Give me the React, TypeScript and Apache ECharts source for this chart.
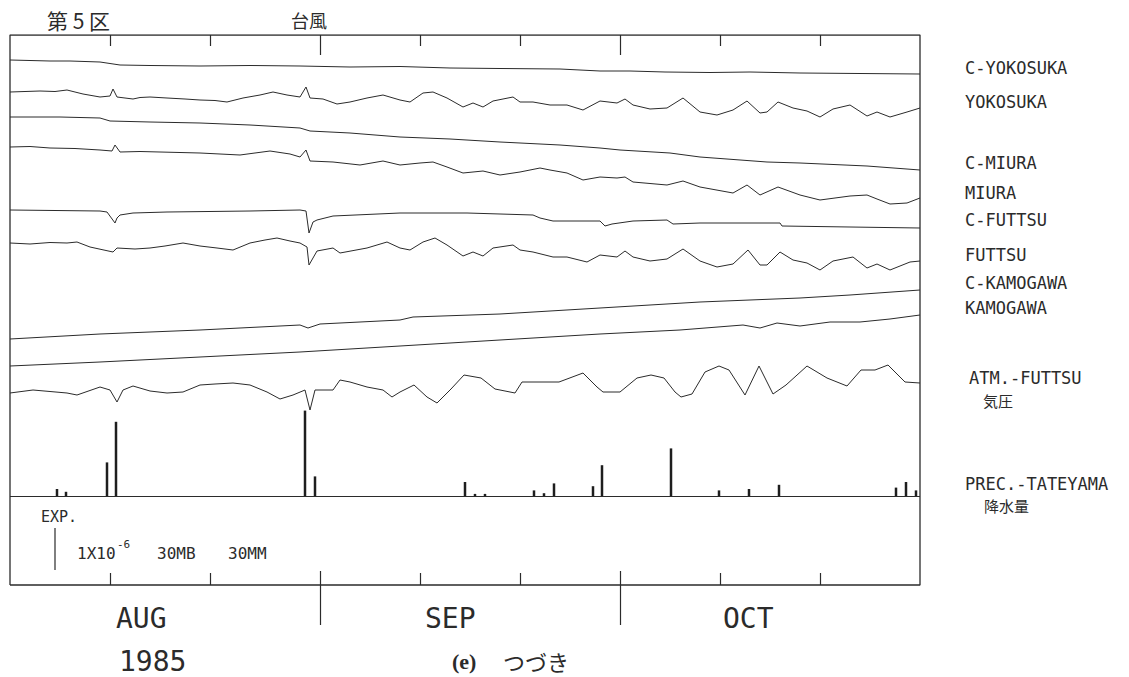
import React, { useEffect, useRef } from "react";
import * as echarts from "echarts";

// Time axis: day 0 = 1 Aug 1985, day 91 = 31 Oct end. Ticks every 10 days, month starts at 31 / 61.
const tickDays = [10, 20, 31, 41, 51, 61, 71, 81];
const monthStarts = [31, 61];

// Plotter units: 42 units = 1x10^-6 strain = 30 mb = 30 mm.
const UNITS_PER_SCALE = 42;
const MM_PER_SCALE = 30;

// Trace levels (starting level of each trace, plotter units above the axis floor)
const traceNames = ["C-YOKOSUKA", "YOKOSUKA", "C-MIURA", "MIURA", "C-FUTTSU", "FUTTSU", "C-KAMOGAWA", "KAMOGAWA", "ATM.-FUTTSU"];
const traceLevels = [565, 533, 508, 478, 415, 382, 286, 259, 232];

// Deviations [day, plotter units] read from the record
const cYokosuka = [[0,0],[2,-0.5],[4,-1],[6,-1],[9,-2],[11,-5],[14,-5.5],[19,-6],[24,-5.5],[29,-6],[34,-7],[39,-6.5],[44,-8],[49,-8.5],[55,-9],[59,-11],[62,-11],[65.5,-12],[70,-12.5],[74,-12],[79,-13],[85,-13.5],[91,-14]];
const yokosuka = [[0,0],[1.5,0.5],[3,1],[4.5,0.5],[5.7,2],[7.3,-2],[9,-5],[10,-4],[10.3,3],[10.7,-5],[12.3,-7],[13,-5.5],[14,-5],[15.7,-6],[17.5,-7],[19,-8],[20.5,-8.5],[21.7,-10],[23.3,-6],[25,-3],[26.3,0],[27.7,-3],[29,-5],[29.6,5],[30,-6],[31.3,-7],[32.7,-12],[34,-10],[35.7,-6],[37.3,-3],[39,-8],[40,-10],[41.3,-1],[42.3,0],[43.7,-6],[45.3,-15],[46.3,-11],[47.3,-15],[48.3,-9],[50.3,-5],[51,-10],[52.3,-10],[54,-13],[55.7,-13],[57.3,-18],[59,-9],[60.7,-11],[61.5,-7],[62.3,-13],[64,-17],[65.7,-16],[67.3,-6],[69,-20],[70.7,-23],[72.3,-18],[73.7,-9],[75,-21],[75.7,-20],[76.8,-10],[78.3,-16],[79.7,-19],[81,-25],[82.3,-17],[84,-13],[85.7,-24],[86.7,-20],[88,-25],[89.7,-20],[91,-16]];
const cMiura = [[0,0],[5,0],[9,-1],[10,-4],[14,-5],[19,-6],[24,-8],[29,-11],[30,-14],[34,-16],[39,-20],[44,-22],[49,-25],[55,-28],[59,-31],[61,-33],[66,-36],[69,-40],[75.7,-45],[79,-46],[85.7,-49],[91,-53]];
const miura = [[0,0],[2,0.5],[4,-1],[6.5,-1.5],[9,-3],[10.2,-4],[10.5,2],[11,-5],[13,-4.5],[15,-5],[17,-5.5],[19,-6],[21,-7],[23,-8],[26,-4],[28,-7],[29,-10],[29.6,-3],[30,-14],[32.3,-15],[35,-18],[37.3,-14],[39,-18],[41,-16],[42.3,-15],[43.7,-20],[45.3,-26],[47.3,-24],[49,-28],[51,-25],[53,-21],[54,-23],[55.7,-26],[57.3,-33],[59,-30],[60.7,-31],[61.5,-30],[62.3,-35],[65.7,-38],[67.3,-34],[69,-40],[72.3,-46],[73.7,-38],[75,-48],[76.8,-40],[79,-48],[81,-53],[84,-49],[85.7,-48],[86.7,-52],[88,-57],[89.7,-56],[91,-51]];
const cFuttsu = [[0,0],[9,-1],[9.7,-2],[10.5,-13],[10.7,-8],[11,-5],[12.3,-3],[15.7,-2],[24,-1],[29,0],[29.6,-1],[29.9,-23],[30.3,-12],[30.7,-10],[32.3,-6],[39,-3],[45.7,-3],[52.3,-5],[53,-8],[54.3,-11],[59,-11],[59.5,-16],[60.2,-14],[62.3,-11],[65.7,-10],[66.3,-14],[69,-13],[77,-13],[77.2,-16],[84,-17],[91,-18]];
const futtsu = [[0,0],[2,-1],[4,0.5],[5.7,0],[6.7,1],[8,-4],[10.3,-9],[10.7,-5],[12.5,-6],[14,-5],[15.5,-3],[17.3,0],[19,-3],[20.7,-5],[22.3,-7],[24,0],[25.5,3],[26.7,5],[28,2],[29,0],[29.7,-4],[29.9,-22],[30.7,-8],[32.3,-5],[33,-10],[35.7,-5],[37.7,1],[39,-5],[40,-7],[41.3,1],[42.5,5],[43.7,-2],[45.3,-13],[46.3,-9],[47.3,-13],[48.3,-5],[50.3,-2],[51,-7],[52.3,-9],[54.3,-14],[55.7,-14],[57.7,-19],[59,-12],[60.7,-14],[61.5,-8],[62.3,-14],[64,-18],[65.7,-16],[67.3,-6],[69,-18],[70.7,-24],[72.3,-21],[73.8,-7],[75,-22],[75.7,-22],[77,-9],[78.3,-17],[79.7,-20],[81,-27],[82.3,-18],[84.3,-14],[85.7,-25],[86.7,-21],[88,-27],[90,-19],[91,-18]];
const cKamogawa = [[0,0],[9,5],[19,9],[29,14],[29.8,11],[31,15],[39,19],[40.3,22],[49,25],[59,31],[69,37],[79,41],[84,44],[91,49]];
const kamogawa = [[0,0],[9,4],[19,9],[29,14],[39,20],[49,26],[59,32],[67,36],[73.3,41],[75,38],[76.7,43],[79,40],[82,44],[85,44],[88,47],[91,51]];
const atmFuttsu = [[0,0],[2.3,3],[4,1.5],[5.7,0],[6.7,-2],[9,6],[10,3],[10.7,-9],[11.3,3],[12.3,7],[14,2],[15.7,0],[17.3,1],[19,8],[20.5,9],[22.3,10],[24,8],[25.7,1],[27,-6],[28.3,-2],[29.5,3],[30,-17],[30.5,3],[32.3,3],[33,13],[34,11],[35.7,6],[37.3,3],[38.2,-4],[39,1],[40.4,8],[41.7,-4],[42.7,-10],[44.1,4],[45.4,18],[47.1,15],[48.5,4],[50.5,0],[51.2,11],[53.2,11],[54.9,11],[57.3,20],[58.7,6],[59.3,1],[61,1],[62.7,15],[64.1,18],[65.4,15],[66.5,1],[67.1,-4],[68.2,-1],[69.5,21],[70.9,27],[71.9,23],[73.5,-2],[74.9,27],[76.3,-1],[77.6,8],[79.7,27],[81.7,15],[83.7,7],[85.1,23],[86.5,23],[87.8,28],[89.5,11],[91,10]];
const traceData = [cYokosuka, yokosuka, cMiura, miura, cFuttsu, futtsu, cKamogawa, kamogawa, atmFuttsu];

// Daily precipitation at Tateyama, [day, mm]
const precipTateyama = [[4.7,5],[5.6,3],[9.7,24],[10.6,53],[29.5,61],[30.5,14],[45.5,10],[46.5,1.5],[47.5,1.5],[52.4,4],[53.4,2],[54.4,9],[58.3,7],[59.2,22],[66.1,34],[70.9,4],[73.9,5],[76.9,8],[88.6,6],[89.6,10],[90.6,4]];

// Frame levels (plotter units on the main axis)
const AXIS_MAX = 590;
const FRAME_TOP = 590;
const FRAME_BOTTOM = 40;
const PREC_BASE = 129;
const SCALE_BAR_BASE = 55;
const SCALE_BAR_DAY = 4.5;
const DAY_MAX = 91;

const rightLabels = [
  { t: "C-YOKOSUKA", y: 68 }, { t: "YOKOSUKA", y: 102 }, { t: "C-MIURA", y: 163 }, { t: "MIURA", y: 193 },
  { t: "C-FUTTSU", y: 220 }, { t: "FUTTSU", y: 255 }, { t: "C-KAMOGAWA", y: 283 }, { t: "KAMOGAWA", y: 308 },
  { t: "ATM.-FUTTSU", y: 378, x: 969 }, { t: "PREC.-TATEYAMA", y: 484 },
];

const INK = "#2b2b2b";
const MONO = '"DejaVu Sans Mono", "Liberation Mono", monospace';
const CJK = '"Noto Sans CJK JP", sans-serif';

export default function App() {
  const ref = useRef<HTMLDivElement>(null);
  useEffect(() => {
    if (!ref.current) return;
    const chart = echarts.init(ref.current, undefined, { renderer: "svg" });
    const mmPerUnit = MM_PER_SCALE / UNITS_PER_SCALE;
    const precMin = -PREC_BASE * mmPerUnit;
    const precMax = (AXIS_MAX - PREC_BASE) * mmPerUnit;

    const tickLines: any[] = [];
    tickDays.forEach((d) => {
      const long = monthStarts.includes(d);
      tickLines.push([{ coord: [d, FRAME_TOP] }, { coord: [d, FRAME_TOP - (long ? 20 : 11)] }]);
      if (long) tickLines.push([{ coord: [d, 0] }, { coord: [d, FRAME_BOTTOM + 14] }]);
      else tickLines.push([{ coord: [d, FRAME_BOTTOM] }, { coord: [d, FRAME_BOTTOM + 12] }]);
    });
    tickLines.push([{ coord: [0, PREC_BASE] }, { coord: [DAY_MAX, PREC_BASE] }]);

    const series: any[] = traceNames.map((name, i) => ({
      type: "line",
      name,
      data: traceData[i].map(([d, v]) => [d, traceLevels[i] + v]),
      symbol: "none",
      silent: true,
      lineStyle: { color: INK, width: 1 },
    }));
    series.push({
      type: "bar",
      name: "PREC.-TATEYAMA",
      yAxisIndex: 1,
      data: precipTateyama,
      barWidth: 2.5,
      silent: true,
      itemStyle: { color: "#1e1e1e" },
    });
    series.push({
      type: "line",
      name: "frame",
      data: [[0, FRAME_BOTTOM], [0, FRAME_TOP], [DAY_MAX, FRAME_TOP], [DAY_MAX, FRAME_BOTTOM], [0, FRAME_BOTTOM]],
      symbol: "none",
      silent: true,
      lineStyle: { color: INK, width: 1.3 },
      markLine: {
        symbol: ["none", "none"],
        silent: true,
        label: { show: false },
        lineStyle: { color: INK, width: 1.2, type: "solid" },
        data: tickLines,
      },
    });
    series.push({
      type: "line",
      name: "scale",
      data: [[SCALE_BAR_DAY, SCALE_BAR_BASE], [SCALE_BAR_DAY, SCALE_BAR_BASE + UNITS_PER_SCALE]],
      symbol: "none",
      silent: true,
      lineStyle: { color: INK, width: 1.2 },
    });

    const txt = (text: string, x: number, y: number, size: number, family = MONO, extra: any = {}) => ({
      type: "text",
      x,
      y,
      silent: true,
      style: { text, fontSize: size, fontFamily: family, fill: INK, verticalAlign: "middle", align: "left", ...extra },
    });

    const graphic: any[] = [
      txt("第 5 区", 47, 20, 21, CJK),
      txt("台風", 291, 20, 18, CJK),
      ...rightLabels.map((l) => txt(l.t, l.x ?? 965, l.y, 17)),
      txt("気圧", 983, 400, 15, CJK),
      txt("降水量", 984, 505, 15, CJK),
      txt("EXP.", 41, 517, 15),
      txt("1X10", 77, 553, 16),
      txt("-6", 117, 544, 11),
      txt("30MB", 157, 553, 16),
      txt("30MM", 228, 553, 16),
      txt("AUG", 116, 618, 28),
      txt("1985", 119, 661, 28),
      txt("SEP", 425, 618, 28),
      txt("OCT", 723, 618, 28),
      txt("(e)", 452, 661, 22, '"Liberation Serif", serif', { fontWeight: "bold" }),
      txt("つづき", 503, 661, 22, CJK),
    ];

    chart.setOption({
      animation: false,
      backgroundColor: "#ffffff",
      grid: { left: 10, right: 209, top: 35, bottom: 52 },
      xAxis: { type: "value", min: 0, max: DAY_MAX, show: false },
      yAxis: [
        { type: "value", min: 0, max: AXIS_MAX, show: false },
        { type: "value", min: precMin, max: precMax, show: false },
      ],
      series,
      graphic,
    });
    return () => chart.dispose();
  }, []);
  return <div ref={ref} style={{ width: 1129, height: 677, position: "absolute", left: 0, top: 0 }} />;
}
